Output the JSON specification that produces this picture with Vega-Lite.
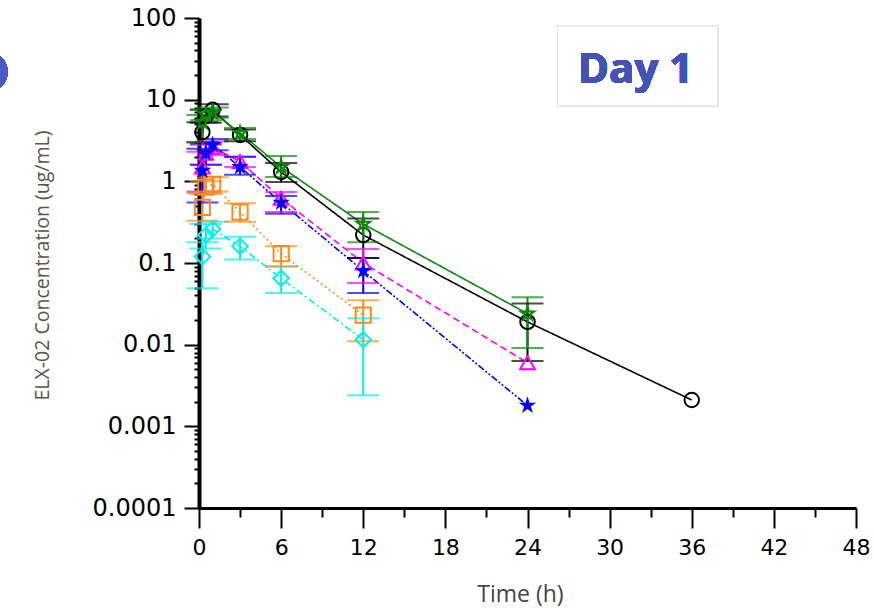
{
  "$schema": "https://vega.github.io/schema/vega-lite/v6.json",
  "width": 657,
  "height": 490,
  "autosize": "none",
  "padding": {"left": 199, "top": 18, "right": 18, "bottom": 100},
  "background": "white",
  "config": {"view": {"stroke": null}},
  "data": {
    "values": [
      {"g": "Cohort 5", "t": 0.25, "c": 4.0, "lo": 3.0, "hi": 5.3},
      {"g": "Cohort 5", "t": 0.5, "c": 6.3, "lo": 5.2, "hi": 7.5},
      {"g": "Cohort 5", "t": 1, "c": 7.5, "lo": 6.2, "hi": 8.8},
      {"g": "Cohort 5", "t": 3, "c": 3.7, "lo": 3.1, "hi": 4.3},
      {"g": "Cohort 5", "t": 6, "c": 1.3, "lo": 0.98, "hi": 1.68},
      {"g": "Cohort 5", "t": 12, "c": 0.22, "lo": 0.115, "hi": 0.35},
      {"g": "Cohort 5", "t": 24, "c": 0.019, "lo": 0.0063, "hi": 0.032},
      {"g": "Cohort 5", "t": 36, "c": 0.0021},
      {"g": "Cohort 6", "t": 0.25, "c": 5.3, "lo": 3.0, "hi": 6.5},
      {"g": "Cohort 6", "t": 0.5, "c": 6.6, "lo": 5.6, "hi": 7.6},
      {"g": "Cohort 6", "t": 1, "c": 7.0, "lo": 6.0, "hi": 8.0},
      {"g": "Cohort 6", "t": 3, "c": 3.9, "lo": 3.3, "hi": 4.5},
      {"g": "Cohort 6", "t": 6, "c": 1.5, "lo": 1.13, "hi": 2.04},
      {"g": "Cohort 6", "t": 12, "c": 0.3, "lo": 0.18, "hi": 0.42},
      {"g": "Cohort 6", "t": 24, "c": 0.024, "lo": 0.0091, "hi": 0.038},
      {"g": "Cohort 4", "t": 0.25, "c": 1.5, "lo": 0.75, "hi": 2.3},
      {"g": "Cohort 4", "t": 0.5, "c": 2.2, "lo": 1.6, "hi": 2.8},
      {"g": "Cohort 4", "t": 1, "c": 2.6, "lo": 2.1, "hi": 3.1},
      {"g": "Cohort 4", "t": 3, "c": 1.75, "lo": 1.5, "hi": 2.0},
      {"g": "Cohort 4", "t": 6, "c": 0.62, "lo": 0.42, "hi": 0.74},
      {"g": "Cohort 4", "t": 12, "c": 0.1, "lo": 0.057, "hi": 0.148},
      {"g": "Cohort 4", "t": 24, "c": 0.006},
      {"g": "Cohort 3", "t": 0.25, "c": 1.35, "lo": 0.55, "hi": 2.5},
      {"g": "Cohort 3", "t": 0.5, "c": 2.2, "lo": 1.6, "hi": 2.9},
      {"g": "Cohort 3", "t": 1, "c": 2.8, "lo": 2.4, "hi": 3.3},
      {"g": "Cohort 3", "t": 3, "c": 1.5, "lo": 1.2, "hi": 2.0},
      {"g": "Cohort 3", "t": 6, "c": 0.55, "lo": 0.4, "hi": 0.66},
      {"g": "Cohort 3", "t": 12, "c": 0.08, "lo": 0.043, "hi": 0.115},
      {"g": "Cohort 3", "t": 24, "c": 0.0018},
      {"g": "Cohort 2", "t": 0.25, "c": 0.48, "lo": 0.33, "hi": 0.72},
      {"g": "Cohort 2", "t": 0.5, "c": 0.85, "lo": 0.7, "hi": 1.0},
      {"g": "Cohort 2", "t": 1, "c": 0.92, "lo": 0.75, "hi": 1.12},
      {"g": "Cohort 2", "t": 3, "c": 0.42, "lo": 0.32, "hi": 0.54},
      {"g": "Cohort 2", "t": 6, "c": 0.13, "lo": 0.091, "hi": 0.16},
      {"g": "Cohort 2", "t": 12, "c": 0.023, "lo": 0.011, "hi": 0.035},
      {"g": "Cohort 1", "t": 0.25, "c": 0.12, "lo": 0.049, "hi": 0.18},
      {"g": "Cohort 1", "t": 0.5, "c": 0.22, "lo": 0.15, "hi": 0.3},
      {"g": "Cohort 1", "t": 1, "c": 0.26, "lo": 0.2, "hi": 0.32},
      {"g": "Cohort 1", "t": 3, "c": 0.16, "lo": 0.11, "hi": 0.21},
      {"g": "Cohort 1", "t": 6, "c": 0.065, "lo": 0.043, "hi": 0.09},
      {"g": "Cohort 1", "t": 12, "c": 0.0115, "lo": 0.0024, "hi": 0.021}
    ]
  },
  "layer": [
    {
      "mark": {"type": "line", "strokeWidth": 1.6},
      "encoding": {
        "x": {
          "field": "t", "type": "quantitative",
          "scale": {"domain": [0, 48], "nice": false, "zero": false},
          "axis": {
            "title": "Time (h)",
            "values": [0, 3, 6, 9, 12, 15, 18, 21, 24, 27, 30, 33, 36, 39, 42, 45, 48],
            "labelExpr": "datum.value % 6 == 0 ? datum.label : ''",
            "tickSize": {"condition": {"test": "datum.value % 6 == 0", "value": 20}, "value": 9},
            "tickColor": "black", "tickWidth": 2,
            "domainColor": "black", "domainWidth": 3,
            "labelFont": "DejaVu Sans", "labelFontSize": 22, "labelColor": "black",
            "labelPadding": 9, "labelOverlap": false, "labelFlush": false,
            "grid": false,
            "titleFont": "Open Sans", "titleFontSize": 23, "titleFontWeight": "normal", "titleColor": "#444444",
            "titleX": 321, "titleY": 86, "titleBaseline": "middle", "titleAlign": "center"
          }
        },
        "y": {
          "field": "c", "type": "quantitative",
          "scale": {"type": "log", "domain": [0.0001, 100], "nice": false},
          "axis": {
            "title": "ELX-02 Concentration (ug/mL)",
            "values": [0.0001, 0.0002, 0.0003, 0.0004, 0.0005, 0.0006, 0.0007, 0.0008, 0.0009,
                       0.001, 0.002, 0.003, 0.004, 0.005, 0.006, 0.007, 0.008, 0.009,
                       0.01, 0.02, 0.03, 0.04, 0.05, 0.06, 0.07, 0.08, 0.09,
                       0.1, 0.2, 0.3, 0.4, 0.5, 0.6, 0.7, 0.8, 0.9,
                       1, 2, 3, 4, 5, 6, 7, 8, 9,
                       10, 20, 30, 40, 50, 60, 70, 80, 90, 100],
            "labelExpr": "indexof([0.0001, 0.001, 0.01, 0.1, 1, 10, 100], datum.value) >= 0 ? format(datum.value, '~g') : ''",
            "tickSize": {"condition": {"test": "indexof([0.0001, 0.001, 0.01, 0.1, 1, 10, 100], datum.value) >= 0", "value": 15}, "value": 5},
            "tickColor": "black", "tickWidth": 2,
            "domainColor": "black", "domainWidth": 4,
            "labelFont": "DejaVu Sans", "labelFontSize": 24, "labelColor": "black",
            "labelPadding": 8, "labelOverlap": false, "labelFlush": false,
            "grid": false,
            "titleFont": "Open Sans", "titleFontSize": 19.5, "titleFontWeight": "normal", "titleColor": "#5a5548",
            "titleX": -157, "titleY": 247, "titleAngle": -90, "titleBaseline": "middle", "titleAlign": "center"
          }
        },
        "color": {
          "field": "g", "type": "nominal", "legend": null,
          "scale": {
            "domain": ["Cohort 1", "Cohort 2", "Cohort 3", "Cohort 4", "Cohort 5", "Cohort 6"],
            "range": ["#00f0f0", "#ff8a1a", "#0000ff", "#ff00ff", "#000000", "#0a8a0a"]
          }
        },
        "strokeDash": {
          "field": "g", "type": "nominal", "legend": null,
          "scale": {
            "domain": ["Cohort 1", "Cohort 2", "Cohort 3", "Cohort 4", "Cohort 5", "Cohort 6"],
            "range": [[7, 3, 2, 3], [2, 3], [7, 2, 2, 2, 2, 2], [7, 4], [1, 0], [1, 0]]
          }
        },
        "order": {"field": "t", "type": "quantitative"}
      }
    },
    {
      "transform": [{"filter": "isValid(datum.lo)"}],
      "mark": {"type": "rule", "strokeWidth": 2},
      "encoding": {
        "x": {"field": "t", "type": "quantitative"},
        "y": {"field": "lo", "type": "quantitative"},
        "y2": {"field": "hi"},
        "color": {"field": "g", "type": "nominal", "legend": null}
      }
    },
    {
      "transform": [{"filter": "isValid(datum.lo)"}],
      "mark": {"type": "tick", "orient": "horizontal", "size": 32, "thickness": 2},
      "encoding": {
        "x": {"field": "t", "type": "quantitative"},
        "y": {"field": "hi", "type": "quantitative"},
        "color": {"field": "g", "type": "nominal", "legend": null}
      }
    },
    {
      "transform": [{"filter": "isValid(datum.lo)"}],
      "mark": {"type": "tick", "orient": "horizontal", "size": 32, "thickness": 2},
      "encoding": {
        "x": {"field": "t", "type": "quantitative"},
        "y": {"field": "lo", "type": "quantitative"},
        "color": {"field": "g", "type": "nominal", "legend": null}
      }
    },
    {
      "transform": [{"filter": "datum.g != 'Cohort 3'"}],
      "mark": {"type": "point", "filled": false, "strokeWidth": 2, "opacity": 1},
      "encoding": {
        "x": {"field": "t", "type": "quantitative"},
        "y": {"field": "c", "type": "quantitative"},
        "color": {"field": "g", "type": "nominal", "legend": null},
        "shape": {
          "field": "g", "type": "nominal", "legend": null,
          "scale": {
            "domain": ["Cohort 1", "Cohort 2", "Cohort 4", "Cohort 5", "Cohort 6"],
            "range": ["diamond", "square", "triangle-up", "circle", "M0,-1L0.225,-0.309L0.951,-0.309L0.363,0.118L0.588,0.809L0,0.382L-0.588,0.809L-0.363,0.118L-0.951,-0.309L-0.225,-0.309Z"]
          }
        },
        "size": {
          "field": "g", "type": "nominal", "legend": null,
          "scale": {
            "domain": ["Cohort 1", "Cohort 2", "Cohort 4", "Cohort 5", "Cohort 6"],
            "range": [240, 200, 210, 230, 330]
          }
        }
      }
    },
    {
      "transform": [{"filter": "datum.g == 'Cohort 3'"}],
      "mark": {"type": "point", "filled": true, "opacity": 1, "size": 340, "shape": "M0,-1L0.225,-0.309L0.951,-0.309L0.363,0.118L0.588,0.809L0,0.382L-0.588,0.809L-0.363,0.118L-0.951,-0.309L-0.225,-0.309Z"},
      "encoding": {
        "x": {"field": "t", "type": "quantitative"},
        "y": {"field": "c", "type": "quantitative"},
        "color": {"field": "g", "type": "nominal", "legend": null}
      }
    },
    {
      "mark": {"type": "rect", "fill": "white", "stroke": "#e4e4e4", "strokeWidth": 1.2},
      "encoding": {
        "x": {"datum": 26.2, "type": "quantitative"},
        "x2": {"datum": 37.9},
        "y": {"datum": 79.8, "type": "quantitative"},
        "y2": {"datum": 8.37}
      }
    },
    {
      "mark": {"type": "text", "text": "Day 1", "font": "Open Sans", "fontWeight": "bold", "fontSize": 42, "color": "#4352b6", "align": "center", "baseline": "middle"},
      "encoding": {
        "x": {"datum": 31.9, "type": "quantitative"},
        "y": {"datum": 23.1, "type": "quantitative"}
      }
    },
    {
      "mark": {"type": "point", "shape": "circle", "filled": true, "size": 1520, "color": "#4a5ac0", "opacity": 1},
      "encoding": {
        "x": {"datum": -15.4, "type": "quantitative"},
        "y": {"datum": 22, "type": "quantitative"}
      }
    }
  ]
}
